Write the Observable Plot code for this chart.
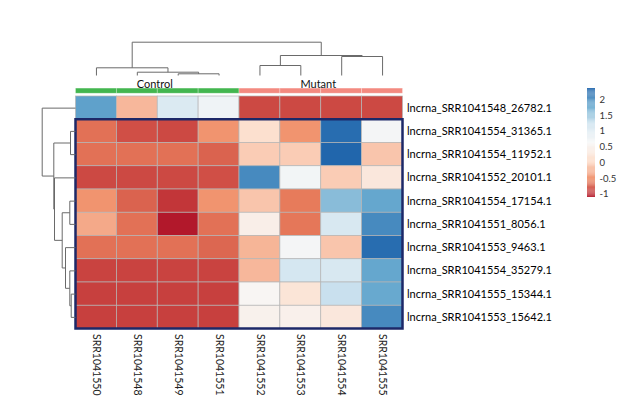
<!DOCTYPE html>
<html><head><meta charset="utf-8">
<script src="https://cdn.jsdelivr.net/npm/d3@7"></script>
<script src="https://cdn.jsdelivr.net/npm/@observablehq/plot@0.6"></script>
<style>
html,body{margin:0;padding:0;background:#fff;}
#chart{position:relative;width:628px;height:402px;overflow:hidden;background:#fff;}
#chart svg{position:absolute;left:0;top:0;}
</style></head><body><div id="chart"></div>
<script>
// ---------- data ----------
const samples = ["SRR1041550","SRR1041548","SRR1041549","SRR1041551","SRR1041552","SRR1041553","SRR1041554","SRR1041555"];
const sampleGroup = ["Control","Control","Control","Control","Mutant","Mutant","Mutant","Mutant"];
const groupNames = ["Control","Mutant"];
const groupColors = ["#43b64f","#f38a80"];
const genes = [
  "lncrna_SRR1041548_26782.1","lncrna_SRR1041554_31365.1","lncrna_SRR1041554_11952.1",
  "lncrna_SRR1041552_20101.1","lncrna_SRR1041554_17154.1","lncrna_SRR1041551_8056.1",
  "lncrna_SRR1041553_9463.1","lncrna_SRR1041554_35279.1","lncrna_SRR1041555_15344.1",
  "lncrna_SRR1041553_15642.1"];
const values = [
  [ 1.85,-0.20, 1.05, 0.75,-0.85,-0.85,-0.85,-0.85],
  [-0.65,-0.82,-0.85,-0.45, 0.15,-0.45, 2.30, 0.68],
  [-0.65,-0.65,-0.65,-0.72,-0.05,-0.05, 2.36,-0.10],
  [-0.85,-0.85,-0.85,-0.82, 2.05, 0.70,-0.05, 0.30],
  [-0.45,-0.72,-0.95,-0.45,-0.10,-0.60, 1.60, 1.80],
  [-0.30,-0.65,-1.10,-0.65, 0.45,-0.62, 1.10, 2.05],
  [-0.65,-0.65,-0.65,-0.70,-0.22, 0.68,-0.10, 2.30],
  [-0.88,-0.88,-0.88,-0.88,-0.20, 1.15, 1.10, 1.80],
  [-0.90,-0.90,-0.90,-0.90, 0.58, 0.25, 1.25, 1.78],
  [-0.90,-0.90,-0.90,-0.90, 0.50, 0.48, 0.30, 2.05]];
const boxedGenes = genes.slice(1);
const colorMin = -1.1, colorMax = 2.36;
const colorTicks = [-1,-0.5,0,0.5,1,1.5,2];
const palette = ["#b2182b","#ef8a62","#fddbc7","#f7f7f7","#d1e5f0","#67a9cf","#2166ac"];
// dendrograms (hclust style: negative = leaf, positive = earlier merge)
const colMerge  = [[-3,-4],[-2,1],[-5,-6],[-1,2],[-7,-8],[3,5],[4,6]];
const colHeight = [1.7,3.3,10,7.7,19,20,33.3];
const rowMerge  = [[-9,-10],[-8,1],[-7,2],[-5,-6],[4,3],[-4,5],[-2,-3],[7,6],[-1,8]];
const rowHeight = [4.3,5.7,10,5.7,13.3,21,5,21.7,33.3];

(function(){
// ---------- helpers ----------
const W = 628, H = 402;
const FONT = "Lato, 'Open Sans', sans-serif";
const X = {type:"linear", domain:[0, samples.length], range:[75.5, 402.5], axis:null};
const Y = {type:"linear", domain:[0, genes.length], range:[96, 328.5], axis:null};
const colorScale = {type:"linear", domain:[colorMin, colorMax], interpolate: d3.piecewise(d3.interpolateRgb, palette)};
const base = {width:W, height:H, margin:0, style:{background:"transparent", fontFamily:FONT, overflow:"visible"}};

function dendro(merge, height){
  const pos=[], hs=[], segs=[];
  const get = k => k < 0 ? {p:-k-0.5, h:0} : {p:pos[k-1], h:hs[k-1]};
  merge.forEach(([a,b],i)=>{
    const A=get(a), B=get(b), h=height[i];
    segs.push({p1:A.p,h1:A.h,p2:A.p,h2:h});
    segs.push({p1:B.p,h1:B.h,p2:B.p,h2:h});
    segs.push({p1:A.p,h1:h,p2:B.p,h2:h});
    pos.push((A.p+B.p)/2); hs.push(h);
  });
  return segs;
}

const cells = [];
genes.forEach((g,r)=>samples.forEach((s,c)=>cells.push({r,c,v:values[r][c]})));
const cols = samples.map((s,i)=>({i, s, g:sampleGroup[i]}));
const groupsData = groupNames.map((g,k)=>{
  const idx = cols.filter(d=>d.g===g).map(d=>d.i);
  return {g, color:groupColors[k], x:(d3.min(idx)+d3.max(idx)+1)/2};
});
const boxTop = genes.indexOf(boxedGenes[0]);
const boxBottom = genes.indexOf(boxedGenes[boxedGenes.length-1]) + 1;

const chart = document.getElementById("chart");

// main heatmap
const mainPlot = Plot.plot({
  ...base,
  x: X, y: Y, color: colorScale,
  marks: [
    ...groupsData.map(G => Plot.rect(cols.filter(d=>d.g===G.g), {
      x1: d=>d.i, x2: d=>d.i+1, y1: -0.34, y2: -0.12,
      fill: G.color, stroke: "#ffffff", strokeOpacity: 0.35, strokeWidth: 0.8})),
    Plot.text(groupsData, {x:"x", y:-0.34, text:"g", lineAnchor:"bottom", dy:-1, dx:-3,
      fontSize:11, fill:"#111"}),
    Plot.rect(cells, {x1:d=>d.c, x2:d=>d.c+1, y1:d=>d.r, y2:d=>d.r+1, fill:"v",
      stroke:"#b5b5b5", strokeWidth:0.7}),
    Plot.rect([{}], {x1:0, x2:samples.length, y1:boxTop, y2:boxBottom,
      fill:"none", stroke:"#1d2868", strokeWidth:2.5}),
    Plot.text(genes, {x:samples.length, y:(d,i)=>i+0.5, text:d=>d, textAnchor:"start",
      dx:4, fontSize:11, fill:"#000"}),
    Plot.text(cols, {x:d=>d.i+0.5, y:genes.length, text:"s", rotate:90, textAnchor:"start",
      dy:5, fontSize:10.5, fill:"#222"})
  ]
});
chart.appendChild(mainPlot);

// top dendrogram
const topPlot = Plot.plot({
  ...base,
  x: X,
  y: {type:"linear", domain:[0, d3.max(colHeight)], range:[75, 41.7], axis:null},
  marks: [Plot.link(dendro(colMerge, colHeight), {x1:"p1", y1:"h1", x2:"p2", y2:"h2",
    stroke:"#6a6a6a", strokeWidth:1})]
});
chart.appendChild(topPlot);

// left dendrogram
const leftPlot = Plot.plot({
  ...base,
  y: Y,
  x: {type:"linear", domain:[0, d3.max(rowHeight)], range:[75, 41.7], axis:null},
  marks: [Plot.link(dendro(rowMerge, rowHeight), {y1:"p1", x1:"h1", y2:"p2", x2:"h2",
    stroke:"#6a6a6a", strokeWidth:1})]
});
chart.appendChild(leftPlot);

// colour bar
const nSteps = 120;
const steps = d3.range(nSteps).map(k=>{
  const a = colorMin + (colorMax-colorMin)*k/nSteps, b = colorMin + (colorMax-colorMin)*(k+1)/nSteps;
  return {a, b, m:(a+b)/2};
});
const barPlot = Plot.plot({
  ...base,
  color: colorScale,
  x: {type:"linear", domain:[0,1], range:[587,595], axis:null},
  y: {type:"linear", domain:[colorMin, colorMax], range:[197, 88], axis:null},
  marks: [
    Plot.rect(steps, {x1:0, x2:1, y1:"a", y2:"b", fill:"m", inset:0}),
    Plot.text(colorTicks, {x:1, y:d=>d, text:d=>String(d), textAnchor:"start", dx:4,
      fontSize:9.5, fill:"#333"})
  ]
});
chart.appendChild(barPlot);
})();
</script></body></html>
